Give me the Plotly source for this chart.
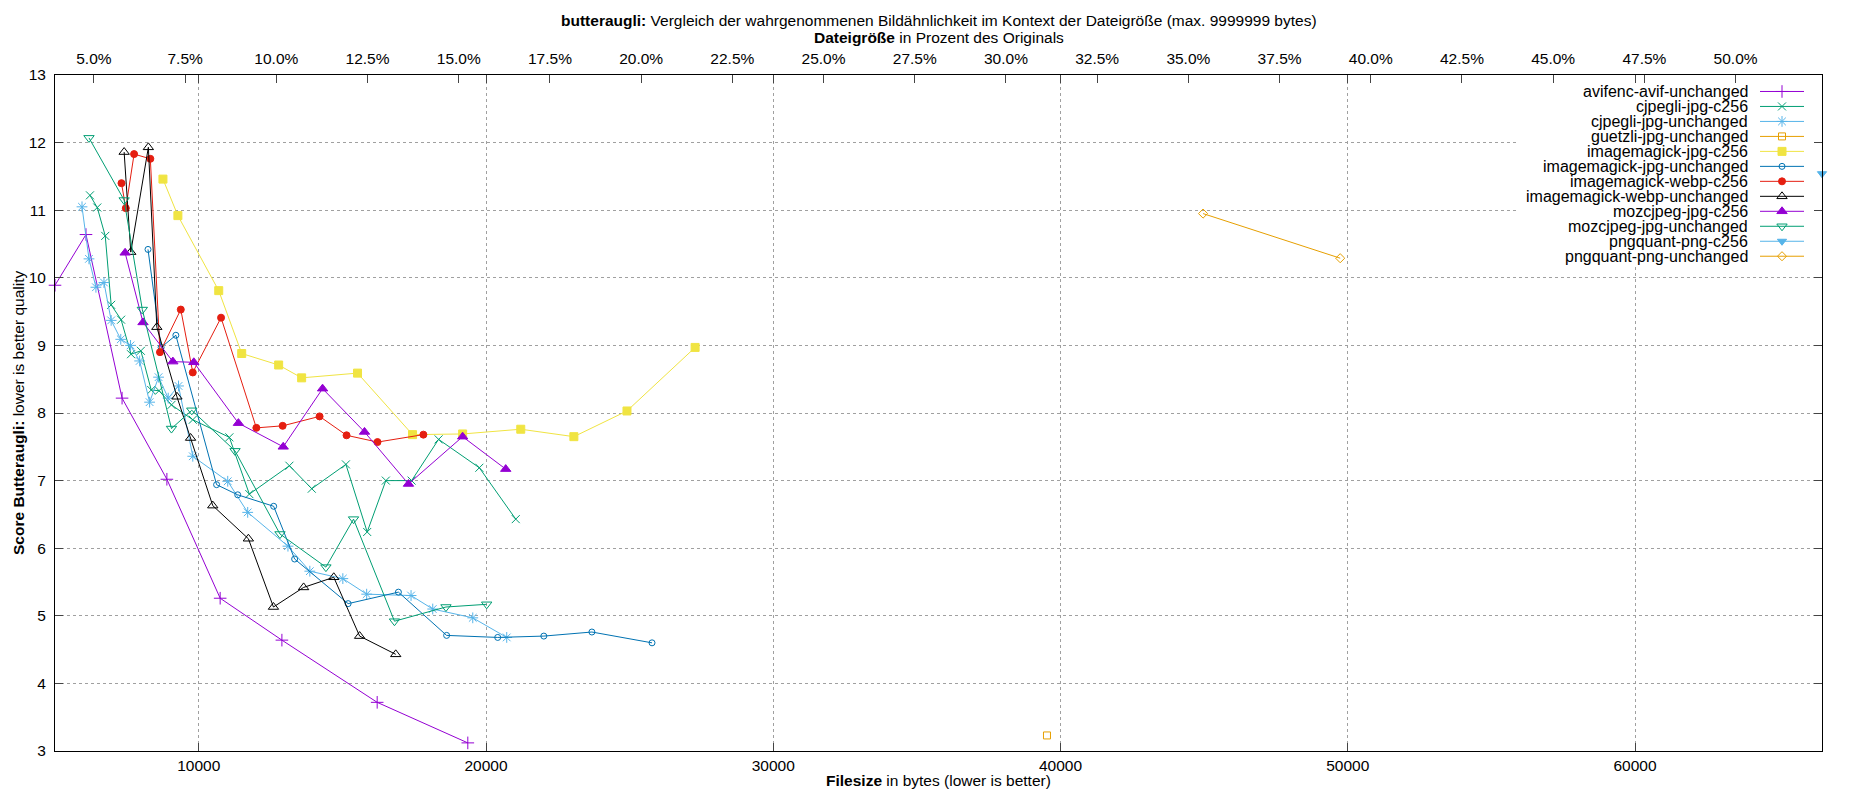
import plotly.graph_objects as go

FONT = "Liberation Sans"
ORIGINAL_BYTES = 127000  # size of the original

# --- data (filesize in bytes, butteraugli score) ---
avifenc_x = [4995, 6074, 7330, 8890, 10745, 12894, 16211, 19366]
avifenc_y = [9.89, 10.64, 8.22, 7.02, 5.26, 4.64, 3.72, 3.12]

cjpegli_c256_x = [6212, 6467, 6744, 6950, 7296, 7643, 7984, 8345, 8617, 9050, 9792,
                  11065, 11761, 13155, 13934, 15122, 15863, 16512, 17410, 18349, 19767, 21035]
cjpegli_c256_y = [11.22, 11.04, 10.62, 9.60, 9.38, 8.87, 8.92, 8.34, 8.33, 8.12, 7.90,
                  7.64, 6.80, 7.22, 6.88, 7.24, 6.24, 7.00, 7.00, 7.61, 7.19, 6.43]

cjpegli_unch_x = [5935, 6178, 6420, 6700, 6950, 7285, 7625, 7942, 8289, 8601, 8936, 9295,
                  9792, 11008, 11703, 13105, 13866, 15015, 15845, 17390, 18145, 19538, 20721]
cjpegli_unch_y = [11.05, 10.28, 9.86, 9.93, 9.37, 9.09, 9.00, 8.77, 8.16, 8.53, 8.22, 8.40,
                  7.36, 6.99, 6.53, 6.03, 5.66, 5.55, 5.32, 5.30, 5.10, 4.97, 4.68]

guetzli_x = [39528]
guetzli_y = [3.23]

im_jpg_c256_x = [8753, 9273, 10695, 11495, 12781, 13581, 15527, 17442, 19186, 21209, 23058, 24907, 27279]
im_jpg_c256_y = [11.46, 10.92, 9.81, 8.88, 8.71, 8.52, 8.59, 7.68, 7.69, 7.76, 7.65, 8.03, 8.97]

im_jpg_unch_x = [8233, 8690, 9202, 10620, 11356, 12607, 13337, 15200, 16950, 18628, 20407, 22012, 23686, 25779]
im_jpg_unch_y = [10.42, 8.97, 9.15, 6.94, 6.79, 6.62, 5.84, 5.18, 5.35, 4.71, 4.68, 4.70, 4.76, 4.60]

im_webp_c256_x = [7309, 7460, 7748, 8314, 8650, 9374, 9791, 10776, 12005, 12920, 14206, 15145, 16222, 17820]
im_webp_c256_y = [11.40, 11.03, 11.83, 11.76, 8.90, 9.53, 8.60, 9.41, 7.78, 7.81, 7.95, 7.67, 7.57, 7.68]

im_webp_unch_x = [7402, 7633, 8245, 8540, 9240, 9715, 10487, 11727, 12600, 13650, 14700, 15600, 16857]
im_webp_unch_y = [11.86, 10.38, 11.93, 9.27, 8.24, 7.63, 6.63, 6.14, 5.13, 5.42, 5.57, 4.70, 4.43]

moz_c256_x = [7436, 8058, 9098, 9827, 11380, 12940, 14310, 15770, 17300, 19186, 20686]
moz_c256_y = [10.37, 9.34, 8.76, 8.75, 7.85, 7.50, 8.36, 7.72, 6.95, 7.65, 7.17]

moz_unch_x = [6178, 7402, 8035, 9050, 9757, 11262, 12827, 14426, 15388, 16813, 18605, 20023]
moz_unch_y = [12.07, 11.15, 9.53, 7.77, 8.04, 7.44, 6.21, 5.72, 6.43, 4.92, 5.13, 5.17]

pngquant_c256_x = [66509]
pngquant_c256_y = [11.54]

pngquant_unch_x = [44962, 49736]
pngquant_unch_y = [10.95, 10.29]

# name, x, y, colour, symbol, size
series = [
    ("avifenc-avif-unchanged", avifenc_x, avifenc_y, "#9400d3", "cross-thin-open", 9),
    ("cjpegli-jpg-c256", cjpegli_c256_x, cjpegli_c256_y, "#009e73", "x-thin-open", 8),
    ("cjpegli-jpg-unchanged", cjpegli_unch_x, cjpegli_unch_y, "#56b4e9", "asterisk-open", 9),
    ("guetzli-jpg-unchanged", guetzli_x, guetzli_y, "#e69f00", "square-open", 7),
    ("imagemagick-jpg-c256", im_jpg_c256_x, im_jpg_c256_y, "#f0e442", "square", 8),
    ("imagemagick-jpg-unchanged", im_jpg_unch_x, im_jpg_unch_y, "#0072b2", "circle-open", 6),
    ("imagemagick-webp-c256", im_webp_c256_x, im_webp_c256_y, "#e51e10", "circle", 7),
    ("imagemagick-webp-unchanged", im_webp_unch_x, im_webp_unch_y, "#000000", "triangle-up-open", 9),
    ("mozcjpeg-jpg-c256", moz_c256_x, moz_c256_y, "#9400d3", "triangle-up", 9),
    ("mozcjpeg-jpg-unchanged", moz_unch_x, moz_unch_y, "#009e73", "triangle-down-open", 9),
    ("pngquant-png-c256", pngquant_c256_x, pngquant_c256_y, "#56b4e9", "triangle-down", 8),
    ("pngquant-png-unchanged", pngquant_unch_x, pngquant_unch_y, "#e69f00", "diamond-open", 7),
]

# the page body has an 8px margin, so the figure sits 8px in from the window corner
OFF = 8
W, H = 1850 - 2 * OFF, 800 - 2 * OFF
# frame of the reference, in window pixels
FR_L, FR_R, FR_T, FR_B = 55, 1822, 74.5, 751.5
L, T = FR_L - OFF, FR_T - OFF
R, B = W - (FR_R - OFF), H - (FR_B - OFF)
PW, PH = FR_R - FR_L, FR_B - FR_T


def paper_x(px):
    return (px - FR_L) / PW


def paper_y(py):
    return (FR_B - py) / PH


all_x = [v for s in series for v in s[1]]
x_min, x_max = min(all_x), max(all_x)
y_min, y_max = 3, 13


def data_x(px):
    return x_min + paper_x(px) * (x_max - x_min)


def data_y(py):
    return y_min + paper_y(py) * (y_max - y_min)


fig = go.Figure()

# white key box, drawn first so it hides the grid but not the data
bx0, bx1, by0, by1 = data_x(1517), x_max, data_y(265), y_max
fig.add_trace(go.Scatter(
    x=[bx0, bx1, bx1, bx0, bx0], y=[by0, by0, by1, by1, by0],
    mode="lines", fill="toself", fillcolor="white", line=dict(width=0),
    showlegend=False, hoverinfo="skip",
))

for name, xs, ys, color, symbol, size in series:
    fig.add_trace(go.Scatter(
        x=xs, y=ys, name=name, mode="lines+markers",
        line=dict(color=color, width=1),
        marker=dict(symbol=symbol, size=size, color=color,
                    line=dict(color=color, width=1)),
        cliponaxis=False, showlegend=False, hoverinfo="x+y+name",
    ))

# invisible trace so the top percentage axis is drawn
fig.add_trace(go.Scatter(
    x=[x_min / ORIGINAL_BYTES * 100, x_max / ORIGINAL_BYTES * 100], y=[None, None],
    xaxis="x2", mode="markers", showlegend=False, hoverinfo="skip",
))

# hand made key, gnuplot style: text on the left, sample on the right
row0, row_step = 91, 15
text_right, samp_l, samp_r = 1750, 1760, 1804
for i, (name, xs, ys, color, symbol, size) in enumerate(series):
    row = row0 + row_step * i
    fig.add_trace(go.Scatter(
        x=[samp_l, (samp_l + samp_r) / 2, samp_r], y=[row, row, row],
        xaxis="x3", yaxis="y3", mode="lines+markers",
        line=dict(color=color, width=1),
        marker=dict(symbol=symbol, size=size, color=color, opacity=[0, 1, 0],
                    line=dict(color=color, width=1)),
        showlegend=False, hoverinfo="skip", cliponaxis=False,
    ))
    fig.add_annotation(x=text_right, y=row, xref="x3", yref="y3", text=name,
                       showarrow=False, xanchor="right", yanchor="middle",
                       font=dict(family=FONT, size=16, color="#000"))

grid = dict(showgrid=True, gridcolor="#a0a0a0", griddash="3px,3px", gridwidth=1, zeroline=False)
tickfont = dict(family=FONT, size=15.5, color="#000")

fig.update_layout(
    width=W, height=H,
    margin=dict(l=L, r=R, t=T, b=B),
    plot_bgcolor="white", paper_bgcolor="white",
    font=dict(family=FONT, size=15.5, color="#000"),
    xaxis=dict(range=[x_min, x_max], tick0=0, dtick=10000, tickformat="d",
               ticks="inside", ticklen=8,
               showline=True, linecolor="#000", linewidth=1, mirror="ticks",
               tickfont=tickfont, ticklabelstandoff=0, **grid),
    yaxis=dict(range=[y_min, y_max], dtick=1, ticks="inside", ticklen=8,
               showline=True, linecolor="#000", linewidth=1, mirror="ticks",
               tickfont=tickfont, ticklabelstandoff=5, **grid),
    xaxis2=dict(overlaying="x", side="top", anchor="y",
                range=[x_min / ORIGINAL_BYTES * 100, x_max / ORIGINAL_BYTES * 100],
                tick0=5, dtick=2.5, tickformat=".1f", ticksuffix="%",
                ticks="inside", ticklen=8, showgrid=False, zeroline=False,
                showline=False, tickfont=tickfont, ticklabelstandoff=7),
    xaxis3=dict(overlaying="x", anchor="y3", range=[FR_L, FR_R], visible=False),
    yaxis3=dict(overlaying="y", anchor="x3", range=[FR_B, FR_T], visible=False),
    showlegend=False,
)

fig.add_annotation(
    x=0.5, y=paper_y(20), xref="paper", yref="paper", showarrow=False,
    text="<b>butteraugli:</b> Vergleich der wahrgenommenen Bildähnlichkeit im Kontext der Dateigröße (max. 9999999 bytes)",
    font=dict(family=FONT, size=15.5, color="#000"), yanchor="middle")
fig.add_annotation(
    x=0.5, y=paper_y(37), xref="paper", yref="paper", showarrow=False,
    text="<b>Dateigröße</b> in Prozent des Originals",
    font=dict(family=FONT, size=15.5, color="#000"), yanchor="middle")
fig.add_annotation(
    x=0.5, y=paper_y(781), xref="paper", yref="paper", showarrow=False,
    text="<b>Filesize</b> in bytes (lower is better)",
    font=dict(family=FONT, size=15.5, color="#000"), yanchor="middle")
fig.add_annotation(
    x=paper_x(18), y=0.5, xref="paper", yref="paper", showarrow=False, textangle=-90,
    text="<b>Score Butteraugli:</b> lower is better quality",
    font=dict(family=FONT, size=15.5, color="#000"), xanchor="center", yanchor="middle")

fig.write_html("out.html")
